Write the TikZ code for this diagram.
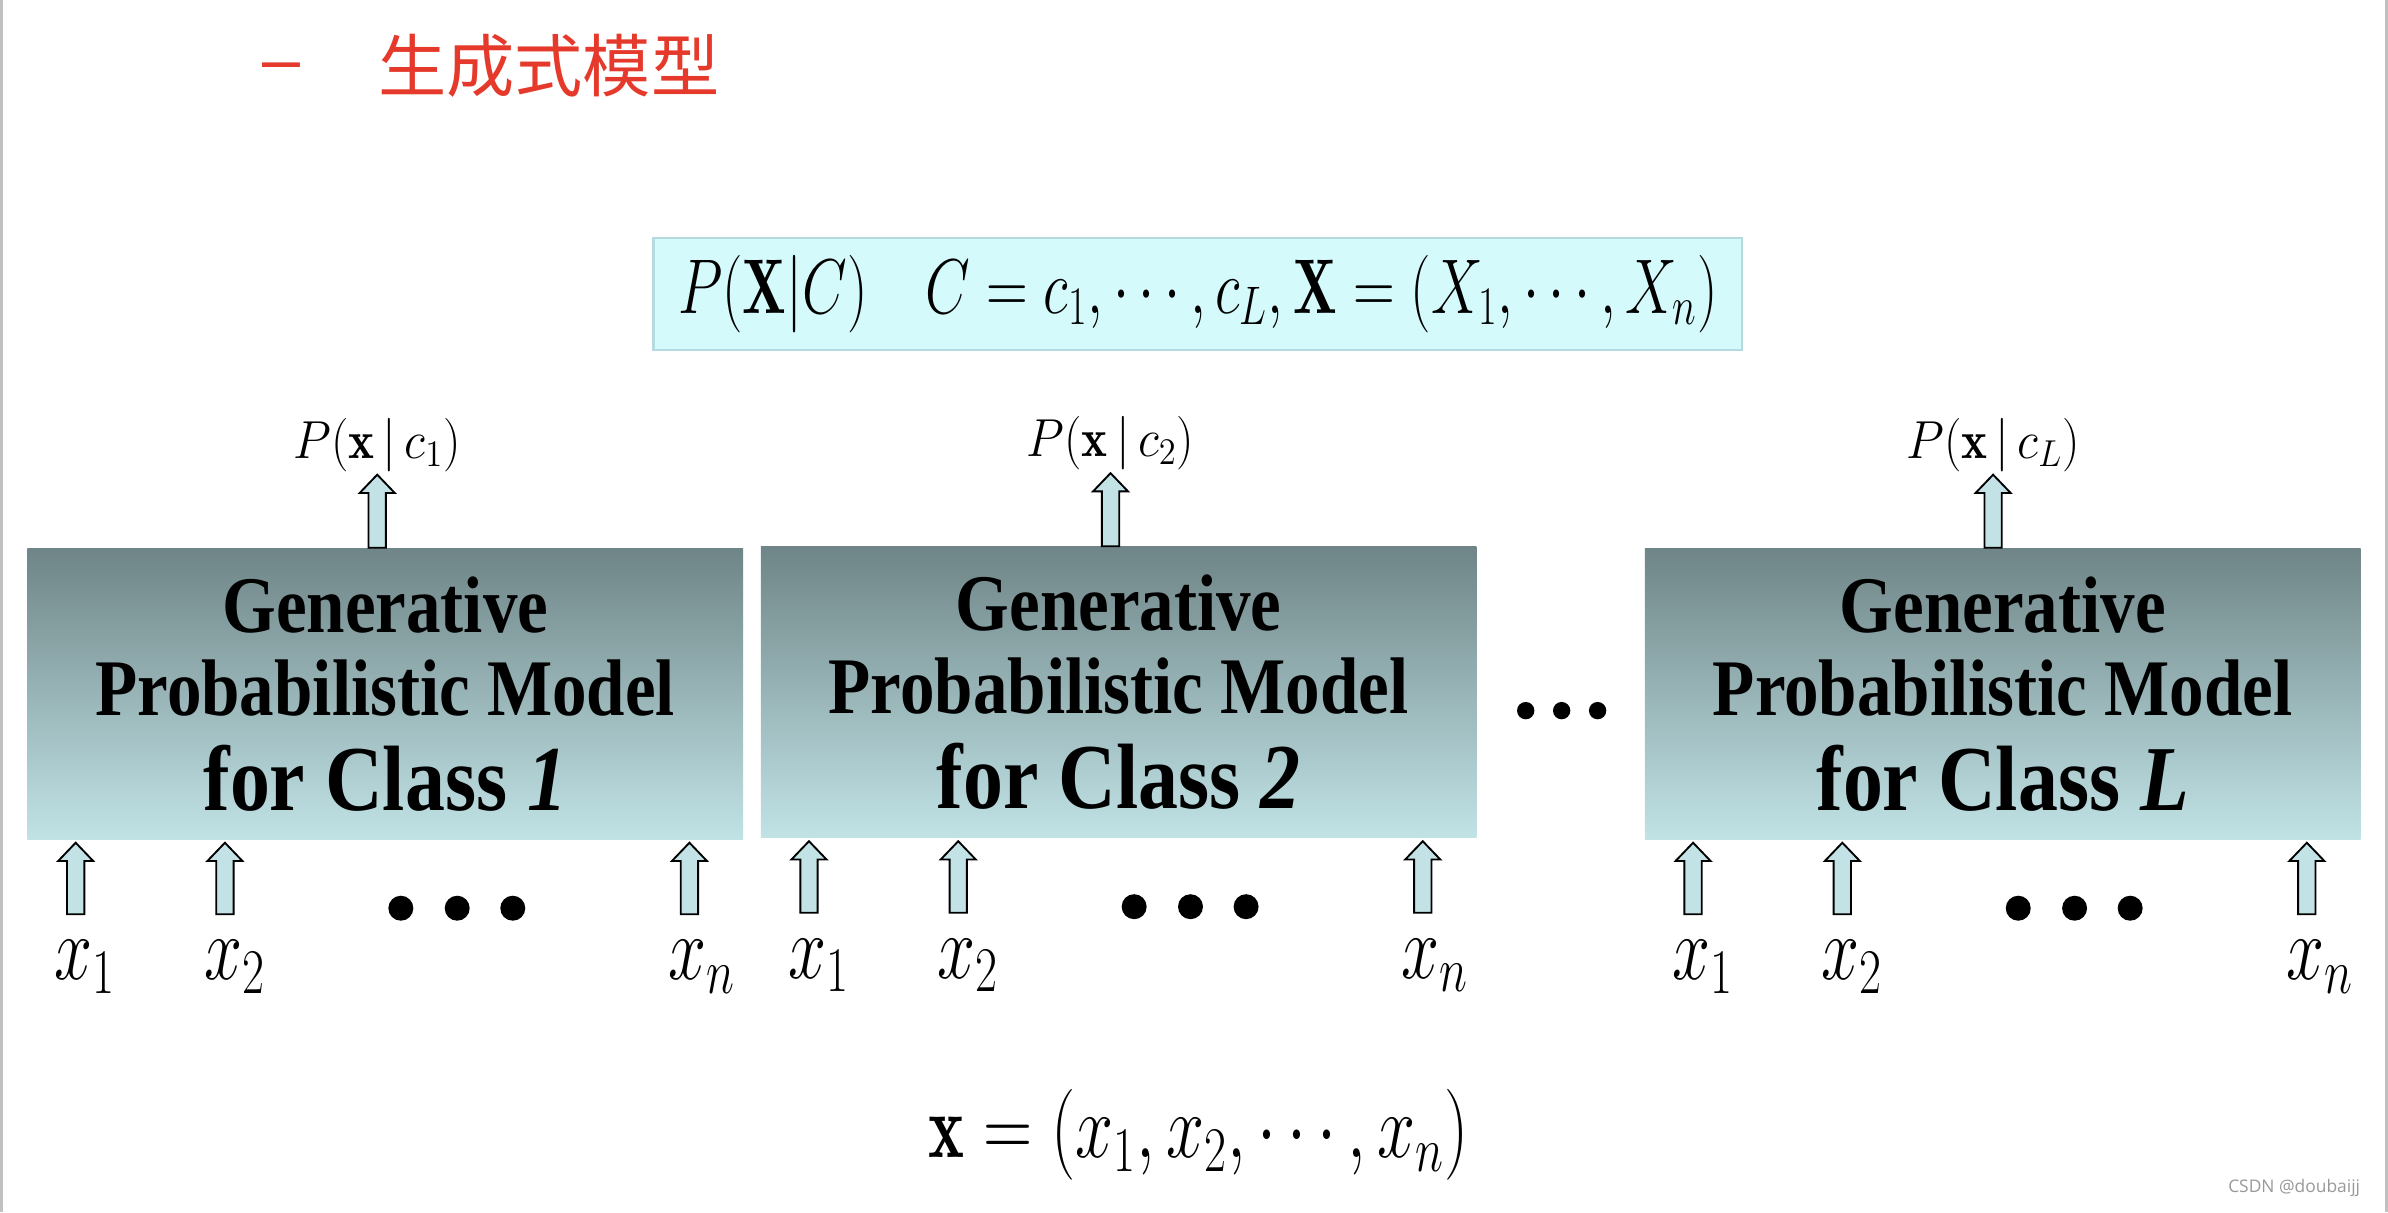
\RequirePackage{fix-cm}
\documentclass[tikz,border=0pt]{standalone}
\usepackage{fontspec}
\usepackage{graphicx}
\usetikzlibrary{positioning,calc}

\newfontfamily\cjkfont{Noto Sans CJK SC}
\newfontfamily\dashfont{Liberation Sans}
\newfontfamily\modelfont[FakeStretch=0.86]{Liberation Serif}
\newfontfamily\markfont{Open Sans}

\definecolor{titlered}{HTML}{E53A2B}
\definecolor{boxtop}{HTML}{6F8587}
\definecolor{boxbottom}{HTML}{C1E3E6}
\definecolor{arrowfill}{HTML}{C3E2E5}
\definecolor{formulafill}{HTML}{D5FAFC}
\definecolor{formulaline}{HTML}{B5DADF}
\definecolor{edgegray}{HTML}{C0C0C0}

% condensed math, like the slide's formula font
\newcommand{\narrowmath}[2]{\scalebox{#1}[1]{$#2$}}
\newcommand{\classline}{\fontsize{34.7}{34}\selectfont}
% hollow block arrow from #1 (base) to #2 (tip)
\newcommand{\blockarrow}[2]{%
  \draw[blockarr] ($(#1)+(-5.7,0)$) -- ($(#2)+(-5.7,12)$) -- ($(#2)+(-11.5,12)$) -- (#2)
    -- ($(#2)+(11.5,12)$) -- ($(#2)+(5.7,12)$) -- ($(#1)+(5.7,0)$) -- cycle;}

\begin{document}
\begin{tikzpicture}[x=0.02cm, y=-0.02cm,
    model/.style={rectangle, inner sep=0pt, minimum width=9.4cm, minimum height=3.82cm,
      top color=boxtop, bottom color=boxbottom, align=center,
      font=\modelfont\bfseries\fontsize{30}{31}\selectfont},
    blockarr/.style={draw=black, fill=arrowfill, line width=0.7pt, line join=miter},
    inlabel/.style={inner sep=0pt, font=\fontsize{34}{36}\selectfont},
    outlabel/.style={inner sep=0pt, font=\fontsize{20}{22}\selectfont}
  ]
  \useasboundingbox (0,0) rectangle (1568,796);
  \fill[white] (0,0) rectangle (1568,796);
  \fill[edgegray] (0,0) rectangle (2.2,796);
  \fill[edgegray] (1566,0) rectangle (1568,796);

  % title
  \node[font=\dashfont\fontsize{25.5}{28}\selectfont, text=titlered, inner sep=0pt] (bullet) at (184.5,48) {–};
  \node[font=\cjkfont\fontsize{25.5}{28}\selectfont, text=titlered, anchor=west, inner sep=0pt] (title) at (248,43) {生成式模型};

  % joint distribution
  \node[draw=formulaline, fill=formulafill, line width=0.8pt, minimum width=14.3cm, minimum height=1.48cm,
    inner sep=0pt, font=\fontsize{29}{32}\selectfont] (joint) at (786.5,193)
    {\narrowmath{0.745}{P(\mathbf{X}|C)\quad C=c_1,\cdots,c_L,\mathbf{X}=(X_1,\cdots,X_n)}};

  % class models
  \node[model] (m1) at (253,455.5) {Generative\\Probabilistic Model\\[4.5pt]\classline for Class \textit{1}};
  \node[model] (m2) at (734.5,454.5) {Generative\\Probabilistic Model\\[4.5pt]\classline for Class \textit{2}};
  \node[model] (mL) at (1315,455.5) {Generative\\Probabilistic Model\\[4.5pt]\classline for Class \textit{L}};

  \foreach \dx in {1001.8,1025.4,1049}
    \fill (\dx,466.6) circle (5.7);

  % outputs
  \foreach \m/\c/\dx in {m1/1/230, m2/2/230, mL/L/229} {
    \coordinate (\m-in) at ($(\m.north west)+(\dx,0)$);
    \coordinate (\m-out) at ($(\m-in)+(0,-48)$);
    \blockarrow{\m-in}{\m-out}
    \node[outlabel, above=1pt of \m-out] (p-\m) {\narrowmath{0.92}{P(\mathbf{x}\,|\,c_{\c})}};
  }

  % inputs
  \foreach \m in {m1,m2,mL} {
    \foreach \dx/\i in {32/1, 130/2, 435/n} {
      \coordinate (\m-t\i) at ($(\m.south west)+(\dx,2)$);
      \coordinate (\m-s\i) at ($(\m-t\i)+(0,47)$);
      \blockarrow{\m-s\i}{\m-t\i}
      \node[inlabel, anchor=base west] (\m-x\i) at ($(\m-s\i)+(-14,43)$) {\narrowmath{0.75}{x_{\i}}};
    }
    \foreach \dx in {245.5,282.5,319}
      \fill ($(\m.south west)+(\dx,45)$) circle (8.2);
  }

  \node[inner sep=0pt, font=\fontsize{34}{36}\selectfont] (vec) at (787,745)
    {\narrowmath{0.75}{\mathbf{x}=(x_1,x_2,\cdots,x_n)}};

  \node[font=\markfont\fontsize{6.5}{8}\selectfont, text=gray!80, anchor=east, inner sep=0pt] (mark) at (1550,780) {CSDN @doubaijj};
\end{tikzpicture}
\end{document}
